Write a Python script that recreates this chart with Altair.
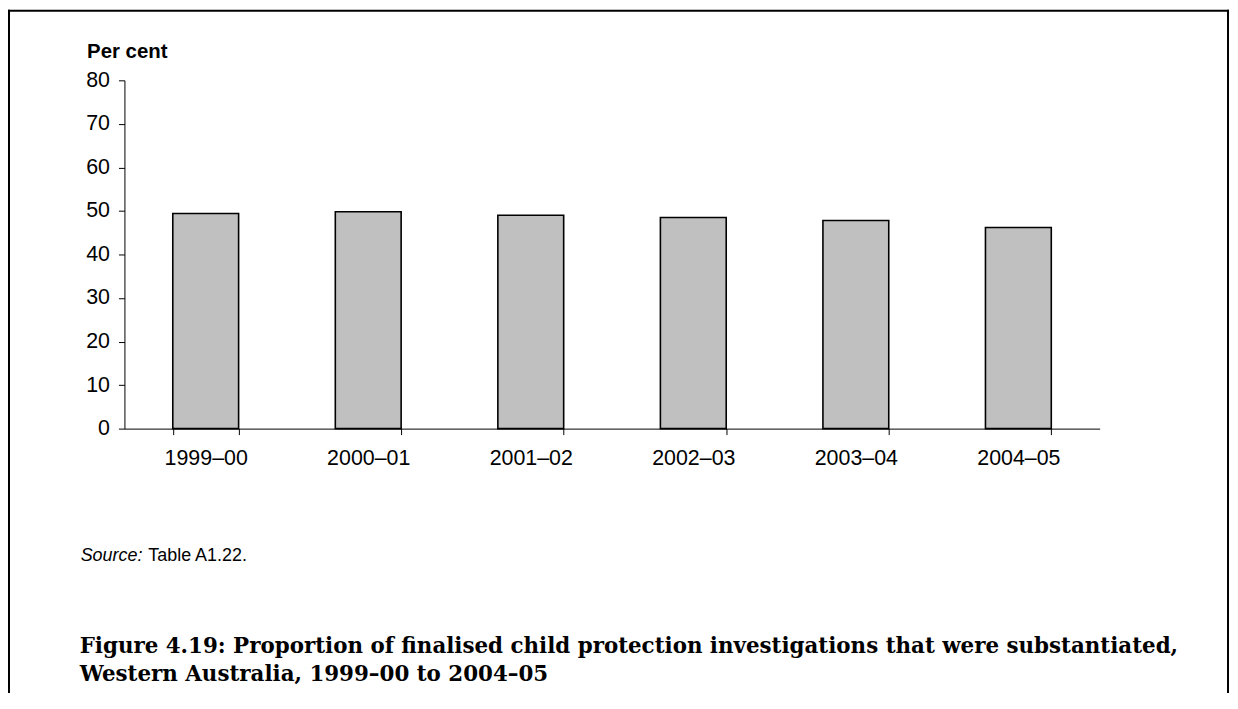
import altair as alt
import pandas as pd

periods = ["1999–00", "2000–01", "2001–02", "2002–03", "2003–04", "2004–05"]
values = [49.4, 49.8, 49.0, 48.5, 47.8, 46.2]
y_ticks = [0, 10, 20, 30, 40, 50, 60, 70, 80]

source_label = "Source:"
source_text = "Table A1.22."
caption_lines = [
    "Figure 4.19: Proportion of finalised child protection investigations that were substantiated,",
    "Western Australia, 1999–00 to 2004–05",
]

df = pd.DataFrame({"period": periods, "value": values})

bars = alt.Chart(df).mark_bar(
    fill="#C0C0C0", stroke="#000000", strokeWidth=1.6
).encode(
    x=alt.X(
        "period:N",
        sort=periods,
        scale=alt.Scale(paddingInner=0.595, paddingOuter=0.2975),
        axis=alt.Axis(
            title=None,
            labelAngle=0,
            labelFontSize=21.5,
            labelFont="Liberation Sans",
            labelColor="#000000",
            labelPadding=13,
            tickBand="extent",
            tickSize=6,
            tickColor="#000000",
            domainColor="#000000",
            grid=False,
        ),
    ),
    y=alt.Y(
        "value:Q",
        scale=alt.Scale(domain=[0, 80], nice=False),
        axis=alt.Axis(
            values=y_ticks,
            title="Per cent",
            titleAngle=0,
            titleAlign="left",
            titleBaseline="alphabetic",
            titleX=-38,
            titleY=-23,
            titleFont="Liberation Sans",
            titleFontSize=20.5,
            titleFontWeight="bold",
            titleColor="#000000",
            labelFontSize=21.5,
            labelFont="Liberation Sans",
            labelColor="#000000",
            labelPadding=9,
            tickSize=6,
            tickColor="#000000",
            domainColor="#000000",
            grid=False,
        ),
    ),
)

src1 = alt.Chart(pd.DataFrame({"t": [source_label]})).mark_text(
    font="Liberation Sans", fontSize=18, fontStyle="italic", align="left",
    baseline="alphabetic", color="#000000"
).encode(text="t:N", x=alt.value(-44), y=alt.value(483))

src2 = alt.Chart(pd.DataFrame({"t": [source_text]})).mark_text(
    font="Liberation Sans", fontSize=18, align="left",
    baseline="alphabetic", color="#000000"
).encode(text="t:N", x=alt.value(24), y=alt.value(483))

cap1 = alt.Chart(pd.DataFrame({"t": [caption_lines[0]]})).mark_text(
    font="DejaVu Serif", fontSize=21.5, fontWeight="bold", align="left",
    baseline="alphabetic", color="#000000"
).encode(text="t:N", x=alt.value(-45), y=alt.value(575))

cap2 = alt.Chart(pd.DataFrame({"t": [caption_lines[1]]})).mark_text(
    font="DejaVu Serif", fontSize=21.5, fontWeight="bold", align="left",
    baseline="alphabetic", color="#000000"
).encode(text="t:N", x=alt.value(-45), y=alt.value(604))

frame_df = pd.DataFrame({"k": [0]})
top_line = alt.Chart(frame_df).mark_rule(color="#000000", strokeWidth=2).encode(
    x=alt.value(-117), x2=alt.value(1110), y=alt.value(-70)
)
left_line = alt.Chart(frame_df).mark_rule(color="#000000", strokeWidth=2).encode(
    x=alt.value(-116), y=alt.value(-71), y2=alt.value(620)
)
right_line = alt.Chart(frame_df).mark_rule(color="#000000", strokeWidth=2).encode(
    x=alt.value(1109), y=alt.value(-71), y2=alt.value(620)
)

chart = alt.layer(
    bars, src1, src2, cap1, cap2, top_line, left_line, right_line
).properties(
    width=980,
    height=350,
    autosize=alt.AutoSizeParams(type="none"),
    padding={"left": 117, "top": 71, "right": 131, "bottom": 264},
    background="#FFFFFF",
).configure_view(stroke=None)

chart.save("out.html", embed_options={"renderer": "svg", "actions": False})
